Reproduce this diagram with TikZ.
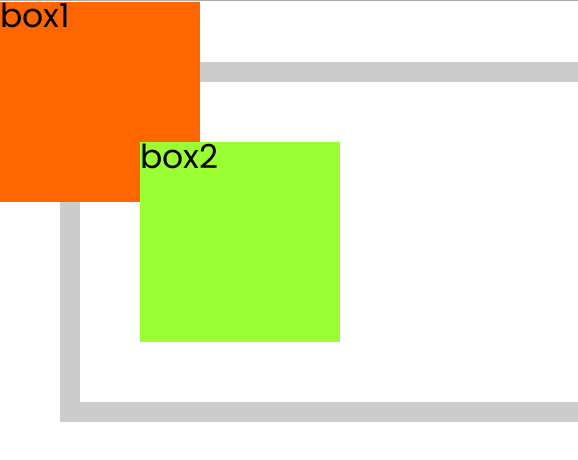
\documentclass[tikz,border=0pt]{standalone}
\usepackage{fontspec}
\setmainfont{Poppins}
\definecolor{boxorange}{HTML}{FF6600}
\definecolor{boxgreen}{HTML}{99FF33}
\definecolor{framegray}{HTML}{CCCCCC}
\definecolor{linegray}{HTML}{AAAAAA}
\tikzset{
  lbl/.style={anchor=base west, inner sep=0pt, font=\fontsize{33}{33}\selectfont, text=black},
  boxfill/.style={draw=none}
}
\begin{document}
\begin{tikzpicture}[x=1pt,y=-1pt]
\useasboundingbox (0,0) rectangle (578,460);
\clip (0,0) rectangle (578,460);
\fill[white] (0,0) rectangle (578,460);
\fill[linegray] (0,0) rectangle (578,1.5);
\draw[framegray, line width=20pt] (600,72) -- (70,72) -- (70,412) -- (600,412);
\fill[boxorange] (0,2) rectangle (200,202);
\node[lbl] (box1) at (0,28) {box1};
\fill[boxgreen] (140,142) rectangle (340,342);
\node[lbl] (box2) at (140,168) {box2};
\end{tikzpicture}
\end{document}
